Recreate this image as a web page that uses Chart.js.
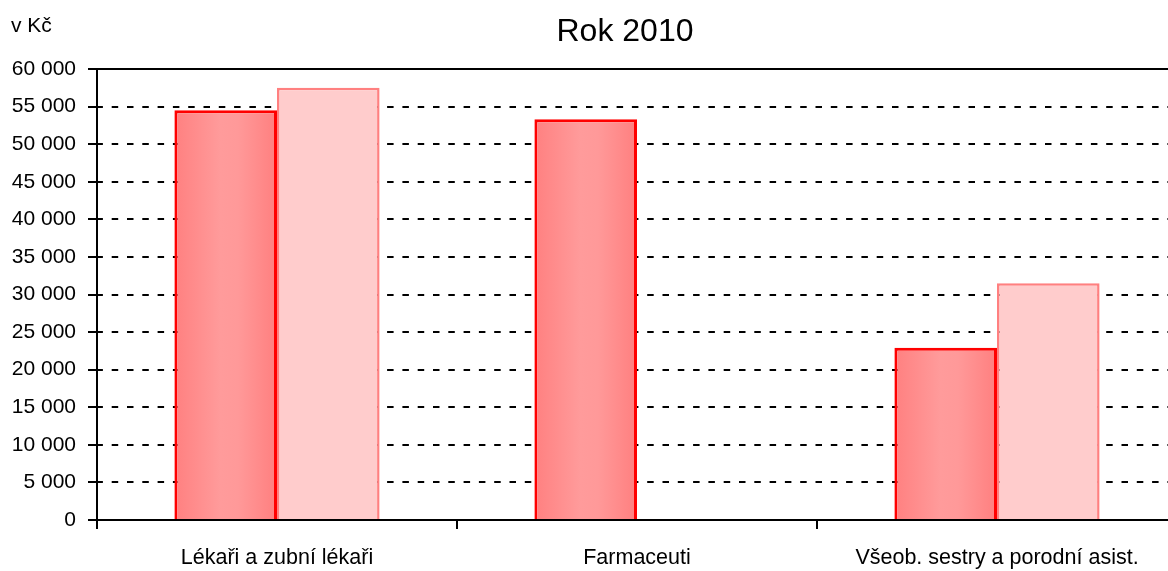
<!DOCTYPE html>
<html>
<head>
<meta charset="utf-8">
<script src="https://cdn.jsdelivr.net/npm/chart.js@4"></script>
<style>
  html, body { margin: 0; padding: 0; background: #fff; overflow: hidden; }
  #wrap { width: 1177px; height: 571px; }
</style>
</head>
<body>
<div id="wrap"><canvas id="chart" width="1177" height="571"></canvas></div>
<script>
const chartTitle = 'Rok 2010';
const unitLabel = 'v Kč';
const categories = ['Lékaři a zubní lékaři', 'Farmaceuti', 'Všeob. sestry a porodní asist.'];
const seriesA = [54500, 53300, 22900];
const seriesB = [57500, null, 31500];
const yTicks = [0, 5000, 10000, 15000, 20000, 25000, 30000, 35000, 40000, 45000, 50000, 55000, 60000];

const FONT = '"Liberation Sans", Arial, sans-serif';

function fmt(v) {
  return String(v).replace(/\B(?=(\d{3})+(?!\d))/g, ' ');
}

// horizontal gradient across each bar of the first series
function barGradient(c) {
  const el = c.chart.getDatasetMeta(c.datasetIndex).data[c.dataIndex];
  if (!el || el.x == null || !el.width) return '#ff8c8c';
  const g = c.chart.ctx.createLinearGradient(el.x - el.width / 2, 0, el.x + el.width / 2, 0);
  g.addColorStop(0, '#ff8080');
  g.addColorStop(0.45, '#ff9b9b');
  g.addColorStop(0.62, '#ff9999');
  g.addColorStop(1, '#ff7f7f');
  return g;
}

// title and unit label
const textPlugin = {
  id: 'texts',
  afterDraw(chart) {
    const ctx = chart.ctx;
    ctx.save();
    ctx.fillStyle = '#000';
    ctx.textBaseline = 'alphabetic';
    ctx.font = '32px ' + FONT;
    ctx.textAlign = 'center';
    ctx.fillText(chartTitle, 625, 41);
    ctx.font = '21px ' + FONT;
    ctx.textAlign = 'left';
    ctx.fillText(unitLabel, 11, 32);
    ctx.restore();
  }
};

const chart = new Chart(document.getElementById('chart'), {
  type: 'bar',
  data: {
    labels: categories,
    datasets: [{
      data: seriesA,
      backgroundColor: barGradient,
      borderColor: '#ff0000',
      borderWidth: 3,
      categoryPercentage: 0.57,
      barPercentage: 1.0
    }, {
      data: seriesB,
      backgroundColor: '#ffcccc',
      borderColor: '#ff8080',
      borderWidth: 2.5,
      categoryPercentage: 0.57,
      barPercentage: 1.0
    }]
  },
  options: {
    responsive: false,
    animation: false,
    layout: { padding: { top: 69, left: 0, right: 0, bottom: 0 } },
    plugins: {
      legend: { display: false },
      title: { display: false },
      tooltip: { enabled: false }
    },
    scales: {
      x: {
        offset: true,
        grid: { drawOnChartArea: false, offset: true, color: '#000', lineWidth: 2, tickLength: 9, tickWidth: 2 },
        border: { color: '#000', width: 2 },
        ticks: { color: '#000', font: { size: 21.5, family: FONT }, padding: 16, maxRotation: 0, autoSkip: false },
        afterFit: (s) => { s.height = 51; }
      },
      x2: {
        type: 'category',
        position: 'top',
        grid: { display: false, drawTicks: false },
        ticks: { display: false },
        border: { display: true, color: '#000', width: 2 },
        afterFit: (s) => { s.height = 0; }
      },
      y: {
        min: 0,
        max: 60000,
        afterBuildTicks: (s) => { s.ticks = yTicks.map(v => ({ value: v })); },
        grid: { color: '#000', lineWidth: 2, tickLength: 9, tickColor: '#000', tickWidth: 2, tickBorderDash: [] },
        border: { color: '#000', width: 2, dash: [6.5, 8.8], dashOffset: 1.6 },
        ticks: { color: '#000', font: { size: 21, family: FONT }, padding: 12, callback: (v) => fmt(v) },
        afterFit: (s) => { s.width = 97; }
      }
    }
  },
  plugins: [textPlugin]
});
chart.update('none');
</script>
</body>
</html>
